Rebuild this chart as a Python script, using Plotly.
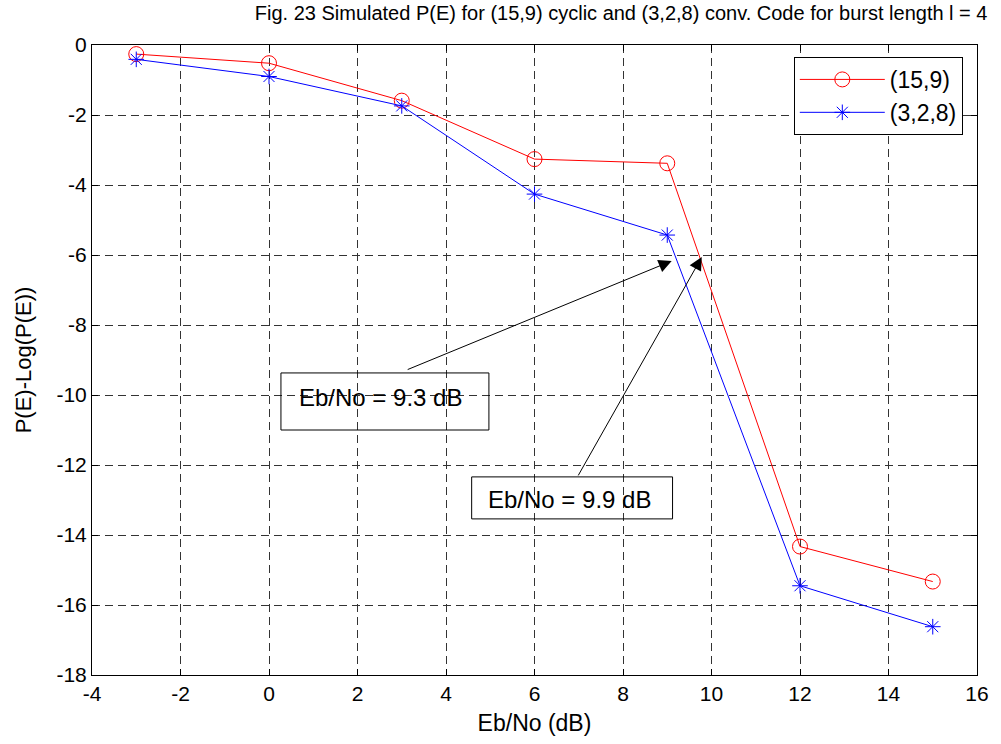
import plotly.graph_objects as go

# Eb/No sweep (dB)
ebno_db = [-3, 0, 3, 6, 9, 12, 15]

# Simulated P(E)-Log(P(E)) for each code
pe_cyclic_15_9 = [-0.26, -0.52, -1.59, -3.26, -3.38, -14.33, -15.33]
pe_conv_3_2_8 = [-0.41, -0.90, -1.74, -4.26, -5.43, -15.45, -16.62]

series_names = ["(15,9)", "(3,2,8)"]

x_ticks = [-4, -2, 0, 2, 4, 6, 8, 10, 12, 14, 16]
y_ticks = [0, -2, -4, -6, -8, -10, -12, -14, -16, -18]
# plain hyphen-minus labels
x_tick_text = [str(v) for v in x_ticks]
y_tick_text = [str(v) for v in y_ticks]

FONT = "Liberation Sans, Arial, Helvetica, sans-serif"

fig = go.Figure()

fig.add_trace(go.Scatter(
    x=ebno_db, y=pe_cyclic_15_9, name=series_names[0],
    mode="lines+markers",
    line=dict(color="#ff0000", width=1),
    marker=dict(symbol="circle-open", size=15, color="#ff0000", line=dict(width=1)),
))
fig.add_trace(go.Scatter(
    x=ebno_db, y=pe_conv_3_2_8, name=series_names[1],
    mode="lines+markers",
    line=dict(color="#0000ff", width=1),
    marker=dict(symbol="asterisk-open", size=13, color="#0000ff", line=dict(width=1, color="#0000ff")),
))

# Callout boxes with labels
boxes = [
    dict(x0=0.27, x1=4.97, y0=-9.37, y1=-11.0, tx=0.63, ty=-10.06, text="Eb/No = 9.3 dB"),
    dict(x0=4.58, x1=9.12, y0=-12.34, y1=-13.54, tx=4.9, ty=-12.98, text="Eb/No = 9.9 dB"),
]
for b in boxes:
    fig.add_shape(type="rect", xref="x", yref="y",
                  x0=b["x0"], x1=b["x1"], y0=b["y0"], y1=b["y1"],
                  line=dict(color="black", width=1), fillcolor="rgba(255,255,255,0)", layer="above")
    fig.add_annotation(x=b["tx"], y=b["ty"], xref="x", yref="y", text=b["text"],
                       showarrow=False, xanchor="left", yanchor="middle",
                       font=dict(family=FONT, size=24, color="black"))

# Arrows from the boxes to the curve crossings
arrows = [
    dict(tail=(3.10, -9.29), tip=(9.10, -6.17)),
    dict(tail=(6.97, -12.34), tip=(9.78, -6.06)),
]
for a in arrows:
    fig.add_annotation(x=a["tip"][0], y=a["tip"][1], ax=a["tail"][0], ay=a["tail"][1],
                       xref="x", yref="y", axref="x", ayref="y", text="",
                       showarrow=True, arrowhead=2, arrowsize=2.6, arrowwidth=1,
                       arrowcolor="black", standoff=0)

axis_common = dict(
    showline=True, linecolor="black", linewidth=1, mirror="ticks",
    ticks="inside", ticklen=6, tickcolor="black",
    showgrid=True, gridcolor="#333333", griddash="8px,5px", gridwidth=1,
    zeroline=False,
    tickfont=dict(family=FONT, size=21, color="black"),
)

fig.update_layout(
    width=1001, height=744,
    margin=dict(l=92, r=19, t=45, b=69),
    paper_bgcolor="white", plot_bgcolor="white",
    title=dict(text="Fig. 23 Simulated P(E) for (15,9) cyclic and (3,2,8) conv. Code for burst length l = 4",
               x=0.6205, xanchor="center", y=0.983, yanchor="middle",
               font=dict(family=FONT, size=20, color="black")),
    xaxis=dict(range=[-4, 16], tickvals=x_ticks, ticktext=x_tick_text,
               title=dict(text="Eb/No (dB)", font=dict(family=FONT, size=23, color="black"), standoff=10),
               **axis_common),
    yaxis=dict(range=[-18, 0], tickvals=y_ticks, ticktext=y_tick_text,
               title=dict(text="P(E)-Log(P(E))", font=dict(family=FONT, size=22, color="black"), standoff=18),
               **axis_common),
    legend=dict(x=0.793, y=0.981, xanchor="left", yanchor="top",
                bordercolor="black", borderwidth=1, bgcolor="white",
                font=dict(family=FONT, size=23, color="black"),
                itemwidth=85, tracegroupgap=6),
    showlegend=True,
)

fig.write_html("out.html")
